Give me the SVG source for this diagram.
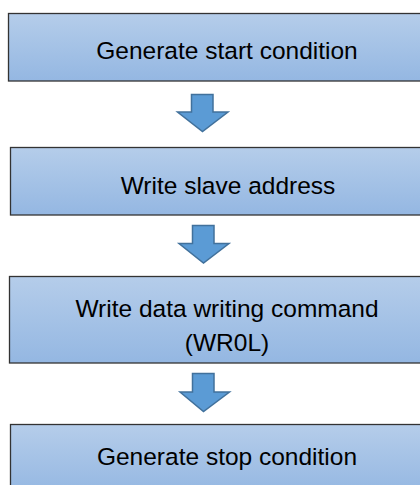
<svg xmlns="http://www.w3.org/2000/svg" width="420" height="485" viewBox="0 0 420 485">
<defs>
<linearGradient id="g" x1="0" y1="0" x2="0" y2="1">
<stop offset="0" stop-color="#b5cdea"/>
<stop offset="1" stop-color="#94b7e2"/>
</linearGradient>
<style>
.box{fill:url(#g);stroke:#333;stroke-width:1.3}
.t{font-family:"Liberation Sans",Arial,sans-serif;font-size:24.5px;fill:#000;text-anchor:middle}
.arr{fill:#5b9bd5;stroke:#41719c;stroke-width:1.5;stroke-linejoin:miter}
</style>
</defs>
<rect width="420" height="485" fill="#fff"/>
<g id="n1"><rect class="box" x="8.5" y="13.5" width="440" height="67.5"/><text class="t" x="227" y="59">Generate start condition</text></g>
<g id="n2"><rect class="box" x="10.5" y="147.5" width="440" height="67.5"/><text class="t" x="228" y="194">Write slave address</text></g>
<g id="n3"><rect class="box" x="9.5" y="276.5" width="440" height="86.5"/><text class="t" x="227" y="316.5">Write data writing command</text><text class="t" x="227" y="351">(WR0L)</text></g>
<g id="n4"><rect class="box" x="10.5" y="424.5" width="440" height="70"/><text class="t" x="227" y="465">Generate stop condition</text></g>
<g id="connectors">
<path class="arr" d="M191.5,94.5 H213 V112 H228 L202.5,131.5 L177.5,112 H191.5 Z"/>
<path class="arr" d="M192.5,225.5 H214 V243.5 H229 L203.5,263 L179,243.5 H192.5 Z"/>
<path class="arr" d="M192.5,373.5 H214 V392 H229.5 L203.5,411.5 L180,392 H192.5 Z"/>
</g>
</svg>
